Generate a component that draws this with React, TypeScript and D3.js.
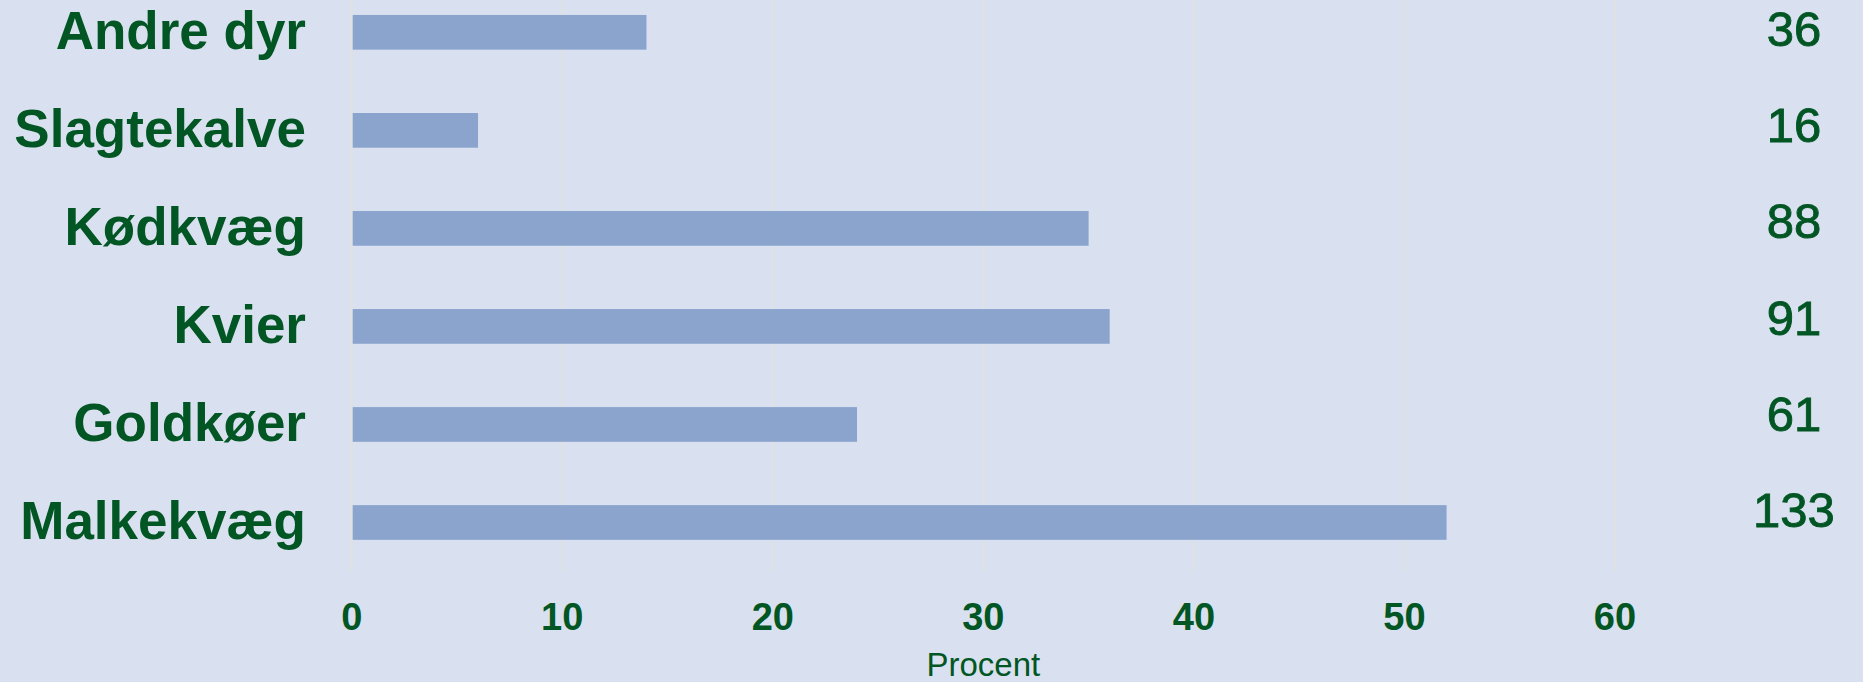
import React from "react";
import * as d3 from "d3";

const categories = ["Andre dyr", "Slagtekalve", "Kødkvæg", "Kvier", "Goldkøer", "Malkekvæg"];
const percentValues = [14, 6, 35, 36, 24, 52];
const countLabels = ["36", "16", "88", "91", "61", "133"];
const xTicks = [0, 10, 20, 30, 40, 50, 60];
const xAxisTitle = "Procent";

const W = 1863;
const H = 682;
const GREEN = "#015624";
const FONT = "'Liberation Sans', Arial, Helvetica, sans-serif";

export default function App() {
  const x = d3.scaleLinear().domain([0, 60]).range([351.7, 1615]);
  const y = d3
    .scaleBand<string>()
    .domain(categories)
    .range([-16.7, 571.5])
    .paddingInner(0.646)
    .paddingOuter(0.323);
  const yCount = d3.scalePoint<string>().domain(categories).range([45.7, 527.3]);

  return (
    <svg
      width={W}
      height={H}
      style={{ position: "absolute", left: 0, top: 0, display: "block" }}
      fontFamily={FONT}
    >
      <rect x={0} y={0} width={W} height={H} fill="#D9E0EF" />
      {xTicks.map((t) => (
        <line
          key={"g" + t}
          x1={x(t)}
          x2={x(t)}
          y1={0}
          y2={571.7}
          stroke="#E3E2DB"
          strokeWidth={1.3}
        />
      ))}
      {categories.map((c, i) => (
        <rect
          key={"b" + c}
          x={x(0) + 1}
          y={y(c)!}
          width={x(percentValues[i]) - x(0) - 1}
          height={y.bandwidth()}
          fill="#8AA4CE"
        />
      ))}
      {categories.map((c) => (
        <text
          key={"l" + c}
          x={306}
          y={y(c)! + y.bandwidth() / 2 + 17}
          textAnchor="end"
          fontSize={53}
          fontWeight="bold"
          fill={GREEN}
        >
          {c}
        </text>
      ))}
      {categories.map((c, i) => (
        <text
          key={"n" + c}
          x={1794}
          y={yCount(c)!}
          textAnchor="middle"
          fontSize={49}
          fill={GREEN}
          stroke={GREEN}
          strokeWidth={0.9}
        >
          {countLabels[i]}
        </text>
      ))}
      {xTicks.map((t) => (
        <text
          key={"t" + t}
          x={x(t)}
          y={630}
          textAnchor="middle"
          fontSize={38}
          fontWeight="bold"
          fill={GREEN}
        >
          {t}
        </text>
      ))}
      <text
        x={(x(0) + x(60)) / 2}
        y={676}
        textAnchor="middle"
        fontSize={33}
        fill={GREEN}
      >
        {xAxisTitle}
      </text>
    </svg>
  );
}
